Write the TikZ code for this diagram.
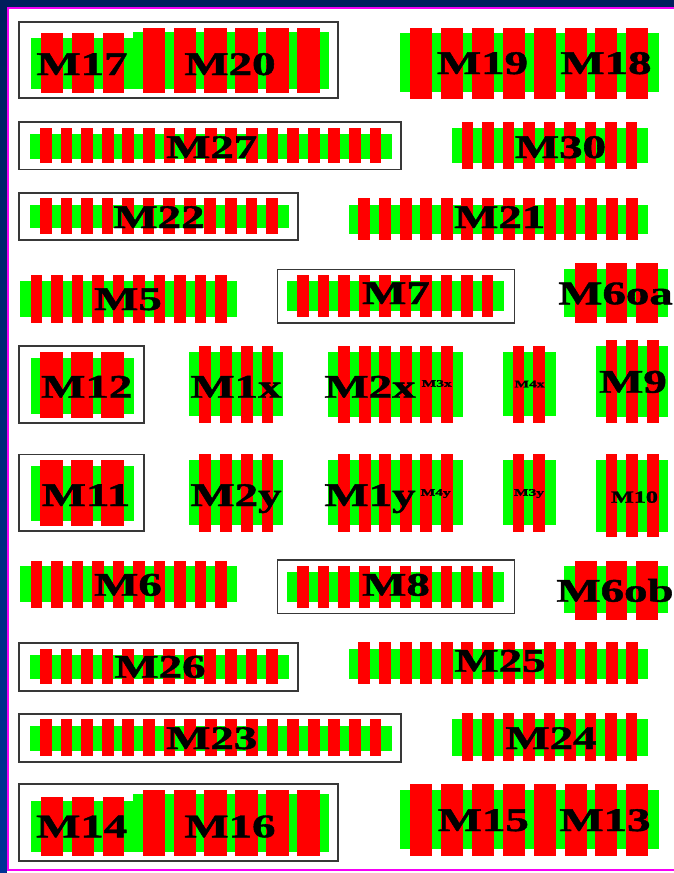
\documentclass[tikz,border=0pt]{standalone}
\usepackage{fontspec}
\setmainfont{Liberation Serif}
\newfontfamily\lblfont[FakeBold=1.2]{Liberation Serif Bold}
\definecolor{navyA}{RGB}{0,30,92}
\definecolor{navyB}{RGB}{0,50,150}
\definecolor{magline}{RGB}{245,0,245}
\definecolor{diff}{RGB}{0,255,0}
\definecolor{poly}{RGB}{255,0,0}
\tikzset{
  gate/.style={fill=poly},
  diffusion/.style={fill=diff},
  cellbox/.style={draw=black!78,line width=1.6pt},
  lbl/.style={font=\fontsize{33}{33}\selectfont\lblfont,inner sep=0pt,anchor=base,xscale=1.42,text=black},
  midlbl/.style={font=\fontsize{17}{17}\selectfont\lblfont,inner sep=0pt,anchor=base,xscale=1.42,text=black},
  smalllbl/.style={font=\fontsize{10}{10}\selectfont\lblfont,inner sep=0pt,anchor=base,xscale=1.55,text=black}
}
\newcommand\gatebars[6]{\foreach \gi in {1,...,#2}{\fill[gate] ({#1+(\gi-1)*#4},#5) rectangle ({#1+(\gi-1)*#4+#3},#6);}}
\begin{document}
\begin{tikzpicture}[x=1pt,y=-1pt]
\useasboundingbox (0,0) rectangle (674,873);
% frame
\fill[navyA] (0,0) rectangle (674,873);
\shade[top color=navyA,bottom color=navyB] (0,0) rectangle (6.5,873);
\fill[white] (6.5,6.5) rectangle (680,873);
\draw[magline,line width=2.6pt] (8,8) rectangle (700,869.8);

% ---------- Row 1 ----------
\draw[cellbox] (19,22) rectangle (338,98);
\fill[diffusion] (30.7,37.7) rectangle (133,89.3);
\fill[diffusion] (133,32) rectangle (329,89);
\gatebars{41}{3}{21.7}{30.85}{33.3}{92.7}
\gatebars{142.7}{6}{22.5}{30.86}{27.7}{92.7}
\node[lbl] (m17) at (82,75) {M17};
\node[lbl] (m20) at (230,75) {M20};
\fill[diffusion] (400,33.3) rectangle (659,92.3);
\gatebars{410}{8}{22}{30.9}{27.7}{99}
\node[lbl] (m19) at (482.5,74) {M19};
\node[lbl] (m18) at (606,74) {M18};

% ---------- Row 2 ----------
\draw[cellbox] (19,122) rectangle (400.7,169.3);
\fill[diffusion] (30,134) rectangle (391.7,158.7);
\gatebars{40}{17}{11.7}{20.6}{128.3}{163.3}
\node[lbl] (m27) at (211.7,158) {M27};
\fill[diffusion] (451.7,128.3) rectangle (647.7,163.3);
\gatebars{461.7}{9}{11.3}{20.54}{121.7}{169.3}
\node[lbl] (m30) at (560.5,158) {M30};

% ---------- Row 3 ----------
\draw[cellbox] (19,192.7) rectangle (297.7,240);
\fill[diffusion] (30,205) rectangle (288.7,228.3);
\gatebars{40}{12}{11.7}{20.55}{198.3}{234}
\node[lbl] (m22) at (159,228) {M22};
\fill[diffusion] (349,205) rectangle (647.7,234);
\gatebars{358.3}{14}{12}{20.6}{198.3}{240}
\node[lbl] (m21) at (499.7,228) {M21};

% ---------- Row 4 ----------
\fill[diffusion] (20,281) rectangle (237.3,316.7);
\gatebars{30.7}{10}{11.5}{20.5}{275.3}{322.7}
\node[lbl] (m5) at (128,310) {M5};
\draw[cellbox] (277.3,269.3) rectangle (514.3,322.7);
\fill[diffusion] (287.3,281) rectangle (504.3,311);
\gatebars{297.3}{10}{11.5}{20.5}{275.3}{316.7}
\node[lbl] (m7) at (396,304) {M7};
\fill[diffusion] (564.3,269) rectangle (668.3,316.7);
\gatebars{575}{3}{21.7}{30.65}{263.3}{322.7}
\node[lbl] (m6oa) at (615.5,304.3) {M6oa};

% ---------- Row 5 ----------
\draw[cellbox] (19,346) rectangle (144,422.7);
\fill[diffusion] (30.7,357.7) rectangle (134.3,414);
\gatebars{40}{3}{22.7}{30.5}{352}{417.7}
\node[lbl] (m12) at (86.7,397.7) {M12};
\fill[diffusion] (189.3,352) rectangle (283.3,416);
\gatebars{199.3}{4}{11.7}{20.8}{346}{422.7}
\node[lbl] (m1x) at (236,397.7) {M1x};
\fill[diffusion] (328.3,352) rectangle (463.3,416.5);
\gatebars{338.3}{6}{11.7}{20.5}{346}{422.7}
\node[lbl] (m2x) at (370,397.7) {M2x};
\node[smalllbl] (m3x) at (436.7,386.7) {M3x};
\fill[diffusion] (502.7,352) rectangle (555.7,416);
\gatebars{512.7}{2}{11.6}{20.6}{346}{422.7}
\node[smalllbl] (m4x) at (529.5,387.3) {M4x};
\fill[diffusion] (595.7,346) rectangle (668.3,416.7);
\gatebars{605.7}{3}{11.7}{20.65}{340}{422.7}
\node[lbl] (m9) at (633,392.7) {M9};

% ---------- Row 6 ----------
\draw[cellbox] (19,454.3) rectangle (144,531);
\fill[diffusion] (30.7,465.7) rectangle (134.3,521);
\gatebars{40}{3}{22.7}{30.5}{460}{525.7}
\node[lbl] (m11) at (86,506) {M11};
\fill[diffusion] (189.3,460) rectangle (283.3,525);
\gatebars{199.3}{4}{11.7}{20.8}{454}{531.7}
\node[lbl] (m2y) at (236,506) {M2y};
\fill[diffusion] (328.3,460) rectangle (463.3,525);
\gatebars{338.3}{6}{11.7}{20.5}{454}{531.7}
\node[lbl] (m1y) at (370,506) {M1y};
\node[smalllbl] (m4y) at (435.7,495.7) {M4y};
\fill[diffusion] (502.7,460) rectangle (555.7,525);
\gatebars{512.7}{2}{11.6}{20.6}{454}{531.7}
\node[smalllbl] (m3y) at (529,495.7) {M3y};
\fill[diffusion] (595.7,460) rectangle (668.3,531.7);
\gatebars{605.7}{3}{11.7}{20.65}{454}{537.3}
\node[midlbl] (m10) at (634.5,502.7) {M10};

% ---------- Row 7 ----------
\fill[diffusion] (20,566) rectangle (237.3,602.3);
\gatebars{30.7}{10}{11.5}{20.5}{560.7}{607.7}
\node[lbl] (m6) at (128,595.7) {M6};
\draw[cellbox] (277.3,560) rectangle (514.3,613.3);
\fill[diffusion] (287.3,572.3) rectangle (504.3,602.3);
\gatebars{297.3}{10}{11.5}{20.5}{566}{607.7}
\node[lbl] (m8) at (396,595.7) {M8};
\fill[diffusion] (564.3,566) rectangle (668.3,613.3);
\gatebars{575}{3}{21.7}{30.65}{560.7}{620}
\node[lbl] (m6ob) at (615,601.7) {M6ob};

% ---------- Row 8 ----------
\draw[cellbox] (19,642.7) rectangle (297.7,690.7);
\fill[diffusion] (30,655) rectangle (288.7,679.3);
\gatebars{40}{12}{11.7}{20.55}{649}{684.3}
\node[lbl] (m26) at (160,677.7) {M26};
\fill[diffusion] (349,649) rectangle (647.7,679);
\gatebars{358.3}{14}{12}{20.6}{642.3}{684.3}
\node[lbl] (m25) at (500,671.7) {M25};

% ---------- Row 9 ----------
\draw[cellbox] (19,714) rectangle (400.7,761.7);
\fill[diffusion] (30,726) rectangle (391.7,750.5);
\gatebars{40}{17}{11.7}{20.6}{719.3}{755.5}
\node[lbl] (m23) at (211.7,749) {M23};
\fill[diffusion] (451.7,719.3) rectangle (647.7,755.7);
\gatebars{461.7}{9}{11.3}{20.54}{713.3}{761}
\node[lbl] (m24) at (551,749) {M24};

% ---------- Row 10 ----------
\draw[cellbox] (19,784) rectangle (338,861);
\fill[diffusion] (30.7,800.7) rectangle (133.3,851.7);
\fill[diffusion] (133,794.3) rectangle (329.3,851.7);
\gatebars{41}{3}{21.7}{30.85}{796.7}{856}
\gatebars{142.7}{6}{22.5}{30.86}{790}{856}
\node[lbl] (m14) at (81.7,837.3) {M14};
\node[lbl] (m16) at (230,837.3) {M16};
\fill[diffusion] (400,790) rectangle (659,849.3);
\gatebars{410}{8}{22}{30.9}{784.3}{856}
\node[lbl] (m15) at (483.3,831) {M15};
\node[lbl] (m13) at (605,831) {M13};
\end{tikzpicture}
\end{document}
